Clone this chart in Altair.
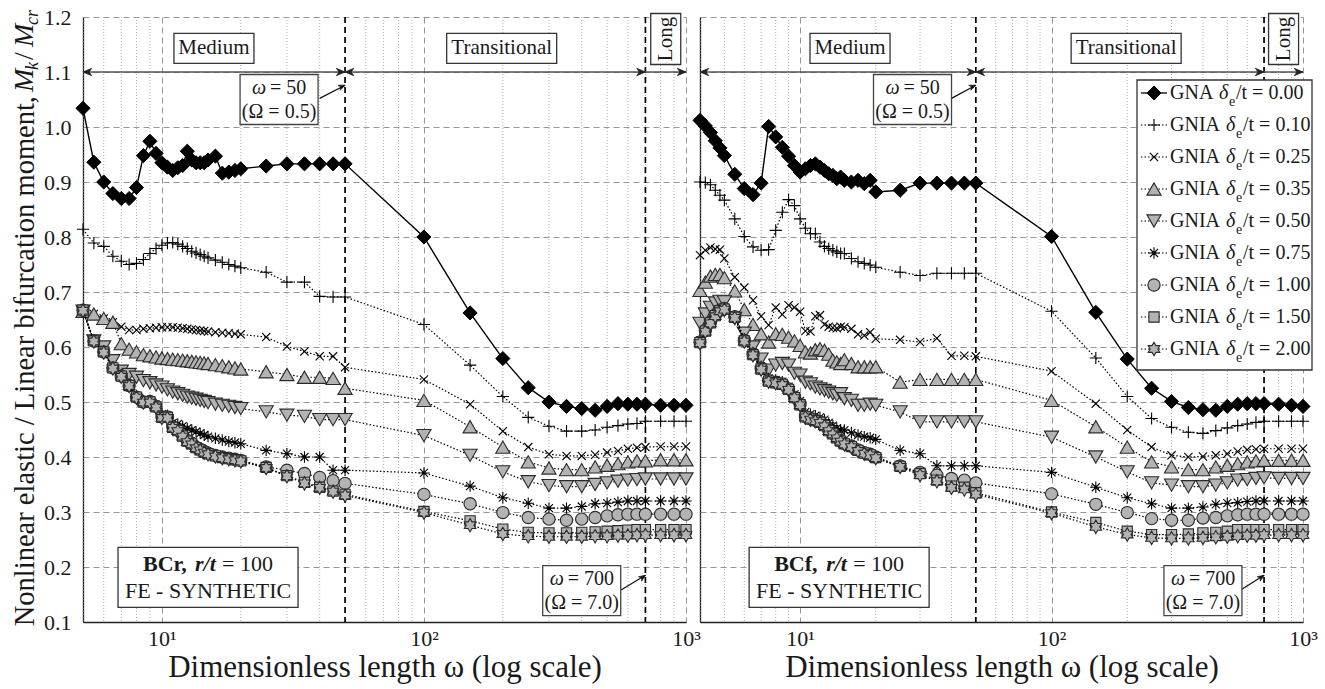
import altair as alt
import pandas as pd

FONT = "Liberation Serif"
INK = "#1a1a1a"
GRAY = "#b3b3b3"
EDGE = "#2a2a2a"

# ---------------- data ----------------
OMEGA_BCR = [5, 5.5, 6, 6.5, 7, 7.5, 8, 8.5, 9, 9.5,
             10, 10.5, 11, 11.5, 12, 12.5, 13, 13.5, 14, 14.5,
             15, 16, 17, 18, 19, 20, 25, 30, 35, 40, 45, 50, 100,
             150, 200, 250, 300, 350, 400, 450, 500, 550, 600, 650, 700,
             800, 900, 1000]
OMEGA_BCF = [4, 4.2, 4.4, 4.6, 4.8,
             5, 5.5, 6, 6.5, 7, 7.5, 8, 8.5, 9, 9.5,
             10, 10.5, 11, 11.5, 12, 12.5, 13, 13.5, 14, 14.5,
             15, 16, 17, 18, 19, 20, 25, 30, 35, 40, 45, 50, 100,
             150, 200, 250, 300, 350, 400, 450, 500, 550, 600, 650, 700,
             800, 900, 1000]

SERIES = ["0.00", "0.10", "0.25", "0.35", "0.50", "0.75", "1.00", "1.50", "2.00"]

BCR_000 = [1.034, 0.936, 0.900, 0.879, 0.870, 0.870, 0.890, 0.948, 0.974, 0.952,
           0.935, 0.927, 0.921, 0.926, 0.930, 0.956, 0.940, 0.935, 0.935, 0.935,
           0.940, 0.947, 0.916, 0.918, 0.921, 0.924, 0.929, 0.933, 0.933, 0.933,
           0.933, 0.933, 0.800, 0.662, 0.579, 0.526, 0.500, 0.492, 0.488, 0.485,
           0.492, 0.497, 0.496, 0.496, 0.496, 0.494, 0.494, 0.494]
BCR_010 = [0.814, 0.789, 0.783, 0.765, 0.756, 0.750, 0.752, 0.759, 0.770, 0.779,
           0.785, 0.789, 0.790, 0.787, 0.783, 0.779, 0.774, 0.771, 0.768, 0.765,
           0.762, 0.758, 0.754, 0.750, 0.747, 0.744, 0.736, 0.718, 0.718, 0.692,
           0.691, 0.691, 0.641, 0.567, 0.510, 0.472, 0.456, 0.447, 0.447, 0.449,
           0.454, 0.457, 0.460, 0.461, 0.465, 0.465, 0.465, 0.465]
BCR_025 = [0.665, 0.660, 0.652, 0.645, 0.637, 0.631, 0.631, 0.633, 0.634, 0.635,
           0.636, 0.636, 0.636, 0.635, 0.634, 0.633, 0.632, 0.631, 0.630, 0.629,
           0.628, 0.627, 0.626, 0.625, 0.624, 0.623, 0.618, 0.601, 0.592, 0.583,
           0.583, 0.563, 0.541, 0.496, 0.447, 0.418, 0.405, 0.402, 0.402, 0.404,
           0.408, 0.411, 0.415, 0.417, 0.418, 0.419, 0.419, 0.419]
BCR_035 = [0.665, 0.660, 0.652, 0.645, 0.606, 0.596, 0.591, 0.586, 0.584, 0.582,
           0.580, 0.579, 0.578, 0.577, 0.576, 0.575, 0.574, 0.573, 0.572, 0.571,
           0.570, 0.568, 0.566, 0.564, 0.562, 0.560, 0.555, 0.550, 0.545, 0.545,
           0.543, 0.525, 0.503, 0.455, 0.418, 0.391, 0.380, 0.377, 0.377, 0.382,
           0.385, 0.388, 0.391, 0.393, 0.393, 0.395, 0.395, 0.395]
BCR_050 = [0.665, 0.611, 0.600, 0.575, 0.556, 0.550, 0.545, 0.539, 0.535, 0.531,
           0.527, 0.522, 0.518, 0.515, 0.512, 0.509, 0.507, 0.505, 0.503, 0.501,
           0.499, 0.496, 0.494, 0.492, 0.490, 0.488, 0.482, 0.476, 0.474, 0.468,
           0.468, 0.468, 0.439, 0.403, 0.373, 0.355, 0.348, 0.346, 0.346, 0.350,
           0.353, 0.356, 0.358, 0.359, 0.360, 0.360, 0.360, 0.360]
BCR_075 = [0.665, 0.611, 0.591, 0.562, 0.549, 0.532, 0.511, 0.503, 0.503, 0.495,
           0.478, 0.476, 0.462, 0.460, 0.456, 0.452, 0.449, 0.446, 0.443, 0.440,
           0.437, 0.434, 0.431, 0.428, 0.426, 0.424, 0.412, 0.406, 0.400, 0.400,
           0.376, 0.376, 0.371, 0.347, 0.326, 0.316, 0.307, 0.307, 0.310, 0.315,
           0.316, 0.318, 0.320, 0.320, 0.320, 0.320, 0.320, 0.320]
BCR_100 = [0.667, 0.611, 0.591, 0.562, 0.547, 0.530, 0.509, 0.500, 0.501, 0.492,
           0.473, 0.473, 0.455, 0.449, 0.439, 0.430, 0.425, 0.418, 0.414, 0.410,
           0.407, 0.403, 0.400, 0.398, 0.396, 0.394, 0.382, 0.376, 0.370, 0.363,
           0.357, 0.352, 0.332, 0.315, 0.299, 0.290, 0.287, 0.285, 0.287, 0.290,
           0.293, 0.295, 0.296, 0.296, 0.296, 0.296, 0.296, 0.296]
BCR_150 = [0.667, 0.611, 0.591, 0.562, 0.547, 0.530, 0.509, 0.500, 0.500, 0.491,
           0.472, 0.472, 0.454, 0.448, 0.438, 0.429, 0.424, 0.417, 0.413, 0.409,
           0.406, 0.402, 0.399, 0.397, 0.395, 0.393, 0.381, 0.366, 0.354, 0.345,
           0.338, 0.332, 0.301, 0.284, 0.269, 0.263, 0.262, 0.262, 0.263, 0.264,
           0.265, 0.266, 0.267, 0.268, 0.268, 0.268, 0.268, 0.268]
BCR_200 = [0.666, 0.610, 0.590, 0.561, 0.546, 0.529, 0.508, 0.499, 0.499, 0.490,
           0.471, 0.471, 0.453, 0.447, 0.437, 0.427, 0.423, 0.416, 0.412, 0.408,
           0.405, 0.401, 0.398, 0.396, 0.394, 0.392, 0.380, 0.365, 0.352, 0.344,
           0.337, 0.330, 0.299, 0.276, 0.260, 0.256, 0.255, 0.255, 0.255, 0.256,
           0.256, 0.257, 0.257, 0.258, 0.258, 0.258, 0.258, 0.258]

BCF_000 = [1.012, 1.002, 0.990, 0.975, 0.962,
           0.948, 0.914, 0.888, 0.877, 0.898, 1.001, 0.982, 0.963, 0.947, 0.930,
           0.918, 0.924, 0.930, 0.933, 0.927, 0.921, 0.915, 0.912, 0.906, 0.909,
           0.903, 0.900, 0.903, 0.897, 0.903, 0.882,
           0.885, 0.898, 0.898, 0.898, 0.898, 0.898, 0.801,
           0.663, 0.578, 0.525, 0.501, 0.490, 0.486, 0.485, 0.492, 0.496, 0.497, 0.497, 0.497,
           0.496, 0.494, 0.492]
BCF_010 = [0.900, 0.899, 0.895, 0.885, 0.876,
           0.867, 0.833, 0.801, 0.782, 0.776, 0.777, 0.812, 0.845, 0.868, 0.857,
           0.833, 0.816, 0.806, 0.806, 0.791, 0.783, 0.779, 0.776, 0.773, 0.770,
           0.770, 0.761, 0.755, 0.752, 0.749, 0.745,
           0.736, 0.730, 0.734, 0.734, 0.734, 0.734, 0.665,
           0.580, 0.510, 0.470, 0.454, 0.445, 0.443, 0.448, 0.453, 0.457, 0.460, 0.463, 0.465,
           0.465, 0.465, 0.465]
BCF_025 = [0.767, 0.776, 0.781, 0.778, 0.777,
           0.761, 0.727, 0.708, 0.685, 0.656, 0.640, 0.672, 0.659, 0.676, 0.672,
           0.664, 0.629, 0.628, 0.656, 0.658, 0.641, 0.637, 0.635, 0.634, 0.637,
           0.636, 0.633, 0.623, 0.621, 0.627, 0.615,
           0.613, 0.609, 0.616, 0.584, 0.584, 0.583, 0.556,
           0.497, 0.449, 0.418, 0.403, 0.400, 0.401, 0.403, 0.406, 0.410, 0.413, 0.414, 0.415,
           0.415, 0.415, 0.415]
BCF_035 = [0.703, 0.718, 0.729, 0.732, 0.732,
           0.726, 0.702, 0.668, 0.641, 0.624, 0.609, 0.624, 0.623, 0.618, 0.611,
           0.603, 0.591, 0.589, 0.595, 0.597, 0.594, 0.587, 0.576, 0.573, 0.570,
           0.577, 0.570, 0.564, 0.564, 0.564, 0.564,
           0.536, 0.541, 0.541, 0.541, 0.541, 0.541, 0.503,
           0.455, 0.418, 0.391, 0.382, 0.377, 0.377, 0.382, 0.385, 0.388, 0.391, 0.393, 0.394,
           0.394, 0.394, 0.394]
BCF_050 = [0.643, 0.660, 0.672, 0.680, 0.683,
           0.682, 0.652, 0.625, 0.600, 0.578, 0.558, 0.567, 0.570, 0.567, 0.552,
           0.549, 0.536, 0.533, 0.527, 0.524, 0.521, 0.518, 0.515, 0.512, 0.515,
           0.506, 0.503, 0.494, 0.494, 0.496, 0.494,
           0.482, 0.464, 0.464, 0.464, 0.464, 0.464, 0.436,
           0.400, 0.373, 0.353, 0.349, 0.346, 0.346, 0.349, 0.353, 0.358, 0.359, 0.361, 0.362,
           0.361, 0.361, 0.361]
BCF_075 = [0.612, 0.632, 0.647, 0.660, 0.668,
           0.671, 0.657, 0.615, 0.590, 0.565, 0.543, 0.540, 0.537, 0.528, 0.514,
           0.502, 0.482, 0.478, 0.475, 0.472, 0.468, 0.462, 0.457, 0.452, 0.449,
           0.449, 0.444, 0.440, 0.437, 0.435, 0.432,
           0.412, 0.406, 0.384, 0.384, 0.384, 0.384, 0.372,
           0.345, 0.326, 0.315, 0.307, 0.307, 0.309, 0.314, 0.316, 0.317, 0.319, 0.320, 0.320,
           0.320, 0.320, 0.320]
BCF_100 = [0.609, 0.630, 0.645, 0.658, 0.667,
           0.670, 0.655, 0.612, 0.587, 0.561, 0.539, 0.536, 0.533, 0.524, 0.509,
           0.496, 0.474, 0.470, 0.467, 0.464, 0.458, 0.449, 0.443, 0.436, 0.430,
           0.425, 0.420, 0.413, 0.408, 0.405, 0.400,
           0.384, 0.372, 0.367, 0.361, 0.358, 0.353, 0.333,
           0.314, 0.299, 0.288, 0.285, 0.285, 0.289, 0.290, 0.293, 0.295, 0.296, 0.296, 0.296,
           0.296, 0.296, 0.296]
BCF_150 = [0.608, 0.629, 0.644, 0.657, 0.666,
           0.669, 0.654, 0.611, 0.586, 0.560, 0.538, 0.535, 0.532, 0.523, 0.508,
           0.495, 0.473, 0.469, 0.466, 0.463, 0.457, 0.448, 0.442, 0.435, 0.429,
           0.424, 0.419, 0.412, 0.407, 0.404, 0.399,
           0.383, 0.370, 0.358, 0.347, 0.345, 0.335, 0.300,
           0.281, 0.265, 0.259, 0.259, 0.260, 0.262, 0.263, 0.265, 0.268, 0.268, 0.268, 0.268,
           0.268, 0.268, 0.268]
BCF_200 = [0.607, 0.628, 0.643, 0.656, 0.665,
           0.668, 0.653, 0.610, 0.585, 0.559, 0.537, 0.534, 0.531, 0.522, 0.507,
           0.494, 0.472, 0.468, 0.465, 0.462, 0.456, 0.447, 0.441, 0.434, 0.428,
           0.423, 0.418, 0.411, 0.406, 0.403, 0.398,
           0.382, 0.367, 0.356, 0.344, 0.341, 0.332, 0.298,
           0.273, 0.259, 0.253, 0.252, 0.252, 0.253, 0.254, 0.255, 0.256, 0.257, 0.257, 0.258,
           0.258, 0.258, 0.258]

BCR_VALUES = [BCR_000, BCR_010, BCR_025, BCR_035, BCR_050, BCR_075, BCR_100, BCR_150, BCR_200]
BCF_VALUES = [BCF_000, BCF_010, BCF_025, BCF_035, BCF_050, BCF_075, BCF_100, BCF_150, BCF_200]

X_MAJOR = [10, 100, 1000]
X_MINOR = [4, 5, 6, 7, 8, 9, 20, 30, 40, 60, 70, 80, 90,
           200, 300, 400, 500, 600, 700, 800, 900]
Y_TICKS = [0.1, 0.2, 0.3, 0.4, 0.5, 0.6, 0.7, 0.8, 0.9, 1.0, 1.1, 1.2]
REGION_BOUNDS = [50, 700]

# ---------------- styles ----------------
PLUS = "M-1,0L1,0M0,-1L0,1"
XMARK = "M-0.75,-0.75L0.75,0.75M-0.75,0.75L0.75,-0.75"
STAR = "M-1,0L1,0M0,-1L0,1M-0.7,-0.7L0.7,0.7M-0.7,0.7L0.7,-0.7"
HEXA = ("M0,-1L0.289,-0.5L0.866,-0.5L0.577,0L0.866,0.5L0.289,0.5L0,1"
        "L-0.289,0.5L-0.866,0.5L-0.577,0L-0.866,-0.5L-0.289,-0.5Z")
STYLES = [
    dict(shape="diamond", size=200, kind="black"),
    dict(shape=PLUS, size=150, kind="open"),
    dict(shape=XMARK, size=120, kind="open"),
    dict(shape="triangle-up", size=200, kind="gray"),
    dict(shape="triangle-down", size=200, kind="gray"),
    dict(shape=STAR, size=130, kind="open"),
    dict(shape="circle", size=150, kind="gray"),
    dict(shape="square", size=105, kind="gray"),
    dict(shape=HEXA, size=180, kind="gray"),
]
ARROW_R = "M0,0L-1,-0.42L-0.7,0L-1,0.42Z"
ARROW_L = "M0,0L1,-0.42L0.7,0L1,0.42Z"

ONE = pd.DataFrame({"k": [0]})


def point_kw(st):
    if st["kind"] == "black":
        return dict(shape=st["shape"], size=st["size"], filled=True,
                    fill="#000", stroke="#000", strokeWidth=1, opacity=1)
    if st["kind"] == "gray":
        return dict(shape=st["shape"], size=st["size"], filled=True,
                    fill=GRAY, stroke=EDGE, strokeWidth=1.1, opacity=1)
    return dict(shape=st["shape"], size=st["size"], filled=False,
                stroke="#000", strokeWidth=1.1, opacity=1)


def box_shape(w, h):
    m = max(w, h)
    a, b = w / m, h / m
    return f"M{-a:.4f},{-b:.4f}L{a:.4f},{-b:.4f}L{a:.4f},{b:.4f}L{-a:.4f},{b:.4f}Z", m * m


def pix_text(x, y, text, **kw):
    base = dict(font=FONT, color=INK, fontSize=20, baseline="middle")
    base.update(kw)
    return alt.Chart(ONE).mark_text(text=text, **base).encode(x=alt.value(x), y=alt.value(y))


def panel(omega, values, xmin, bc_name, bc_x, left):
    xsc = alt.Scale(type="log", domain=[xmin, 1000], nice=False)
    ysc = alt.Scale(domain=[0.1, 1.2], nice=False, zero=False)
    xax = alt.Axis(values=X_MAJOR,
                   labelExpr="datum.value == 10 ? '10¹' : datum.value == 100 ? '10²' : '10³'",
                   grid=True, gridDash=[6, 4], gridColor="#8a8a8a", gridWidth=0.9,
                   ticks=False, domainColor="#222", domainWidth=1.3, labelFlush=False,
                   labelFont=FONT, labelFontSize=22, labelColor=INK, labelPadding=6,
                   title="Dimensionless length ω (log scale)", titleFont=FONT,
                   titleFontSize=31, titleFontWeight="normal", titleColor=INK, titlePadding=3)
    if left:
        yax = alt.Axis(values=Y_TICKS, format=".1f", grid=True, gridDash=[6, 4],
                       gridColor="#8a8a8a", gridWidth=0.9, ticks=False, domainColor="#222",
                       domainWidth=1.3, labelFont=FONT, labelFontSize=22, labelColor=INK,
                       labelPadding=12, title="")
    else:
        yax = alt.Axis(values=Y_TICKS, labels=False, grid=True, gridDash=[6, 4],
                       gridColor="#8a8a8a", gridWidth=0.9, ticks=False, domainColor="#222",
                       domainWidth=1.3, title="")
    X = alt.X("omega:Q", scale=xsc, axis=xax)
    Y = alt.Y("value:Q", scale=ysc, axis=yax)

    def at(w, v):
        return alt.Chart(pd.DataFrame({"omega": [w], "value": [v]}))

    layers = []
    minor = [m for m in X_MINOR if m >= xmin]
    layers.append(alt.Chart(pd.DataFrame({"omega": minor})).mark_rule(
        color="#a8a8a8", strokeDash=[1, 2], strokeWidth=0.9).encode(x=X))
    layers.append(alt.Chart(pd.DataFrame({"omega": REGION_BOUNDS})).mark_rule(
        color="#000", strokeDash=[6, 4], strokeWidth=1.7).encode(x=X))
    # region arrow line at 1.1
    layers.append(alt.Chart(pd.DataFrame({"omega": [xmin], "omega2": [1000], "value": [1.1]}))
                  .mark_rule(color="#555", strokeWidth=1.6).encode(x=X, x2="omega2:Q", y=Y))
    layers.append(alt.Chart(pd.DataFrame({"omega": [xmin, 50], "value": [1.1, 1.1]}))
                  .mark_point(shape=ARROW_L, size=300, filled=True, fill="#222", stroke="#222",
                              strokeWidth=0.8, opacity=1).encode(x=X, y=Y))
    layers.append(alt.Chart(pd.DataFrame({"omega": [50, 700, 1000], "value": [1.1, 1.1, 1.1]}))
                  .mark_point(shape=ARROW_R, size=300, filled=True, fill="#222", stroke="#222",
                              strokeWidth=0.8, opacity=1).encode(x=X, y=Y))

    # data series
    for vals, st in zip(values, STYLES):
        df = pd.DataFrame({"omega": omega, "value": vals})
        if st["kind"] == "black":
            line = alt.Chart(df).mark_line(color="#000", strokeWidth=1.4)
        else:
            line = alt.Chart(df).mark_line(color="#000", strokeWidth=1.2, strokeDash=[1.5, 2])
        layers.append(line.encode(x=X, y=Y))
        layers.append(alt.Chart(df).mark_point(**point_kw(st)).encode(x=X, y=Y))

    # region labels
    p, s = box_shape(80, 30)
    layers.append(at(15.8, 1.143).mark_point(shape=p, size=s, filled=True, fill="white",
                                             stroke="#333", strokeWidth=1.3, opacity=1).encode(x=X, y=Y))
    layers.append(at(15.8, 1.143).mark_text(text="Medium", font=FONT, fontSize=21, color=INK,
                                            baseline="middle").encode(x=X, y=Y))
    p, s = box_shape(110, 30)
    layers.append(at(198, 1.143).mark_point(shape=p, size=s, filled=True, fill="white",
                                            stroke="#333", strokeWidth=1.3, opacity=1).encode(x=X, y=Y))
    layers.append(at(198, 1.143).mark_text(text="Transitional", font=FONT, fontSize=21, color=INK,
                                           baseline="middle").encode(x=X, y=Y))
    p, s = box_shape(30, 51)
    layers.append(at(837, 1.160).mark_point(shape=p, size=s, filled=True, fill="white",
                                            stroke="#333", strokeWidth=1.3, opacity=1).encode(x=X, y=Y))
    layers.append(at(837, 1.160).mark_text(text="Long", font=FONT, fontSize=21, color=INK,
                                           angle=270, baseline="middle").encode(x=X, y=Y))

    # omega annotations
    for (cx, cy, x0, y0, x1, y1, ang, l1, l2, w1) in [
        (28, 1.050, 40, 1.052, 50, 1.076, 337, "= 50", "(Ω = 0.5)", 54),
        (400, 0.157, 565, 0.158, 700, 0.185, 325, "= 700", "(Ω = 7.0)", 64),
    ]:
        layers.append(alt.Chart(pd.DataFrame({"omega": [x0], "value": [y0], "o2": [x1], "v2": [y1]}))
                      .mark_rule(color="#111", strokeWidth=1.2)
                      .encode(x=X, y=Y, x2="o2:Q", y2="v2:Q"))
        layers.append(at(x1, y1).mark_point(shape=ARROW_R, size=170, filled=True, fill="#111",
                                            stroke="#111", strokeWidth=0.6, angle=ang,
                                            opacity=1).encode(x=X, y=Y))
        p, s = box_shape(78, 50)
        layers.append(at(cx, cy).mark_point(shape=p, size=s, filled=True, fill="white",
                                            stroke="#444", strokeWidth=1.3, opacity=1).encode(x=X, y=Y))
        half = w1 / 2
        layers.append(at(cx, cy).mark_text(text="ω", font=FONT, fontSize=20, fontStyle="italic",
                                           color=INK, align="left", baseline="middle",
                                           dx=-half, dy=-12).encode(x=X, y=Y))
        layers.append(at(cx, cy).mark_text(text=l1, font=FONT, fontSize=20, color=INK,
                                           align="left", baseline="middle",
                                           dx=-half + 18, dy=-12).encode(x=X, y=Y))
        layers.append(at(cx, cy).mark_text(text=l2, font=FONT, fontSize=20, color=INK,
                                           baseline="middle", dy=12).encode(x=X, y=Y))

    # BC box
    p, s = box_shape(180, 60)
    layers.append(at(bc_x, 0.181).mark_point(shape=p, size=s, filled=True, fill="white",
                                             stroke="#333", strokeWidth=1.3, opacity=1).encode(x=X, y=Y))
    layers.append(at(bc_x, 0.181).mark_text(text=bc_name, font=FONT, fontSize=22, fontWeight="bold",
                                            color=INK, align="left", baseline="middle",
                                            dx=-65, dy=-13).encode(x=X, y=Y))
    layers.append(at(bc_x, 0.181).mark_text(text="r/t", font=FONT, fontSize=22, fontWeight="bold",
                                            fontStyle="italic", color=INK, align="left",
                                            baseline="middle", dx=-13, dy=-13).encode(x=X, y=Y))
    layers.append(at(bc_x, 0.181).mark_text(text="= 100", font=FONT, fontSize=22, color=INK,
                                            align="left", baseline="middle",
                                            dx=14, dy=-13).encode(x=X, y=Y))
    layers.append(at(bc_x, 0.181).mark_text(text="FE - SYNTHETIC", font=FONT, fontSize=22,
                                            color=INK, baseline="middle", dy=14).encode(x=X, y=Y))

    if left:
        # layout anchor (top-left corner of the page)
        layers.append(alt.Chart(ONE).mark_rect(opacity=0).encode(
            x=alt.value(-83), x2=alt.value(-82), y=alt.value(-17), y2=alt.value(-16)))
        tx = -58
        layers.append(pix_text(tx, 79, "Nonlinear elastic / Linear bifurcation moment,",
                               fontSize=28.5, angle=270, align="right"))
        layers.append(pix_text(tx, 75, "M", fontSize=28, fontStyle="italic", angle=270, align="left"))
        layers.append(pix_text(tx + 8, 53, "k", fontSize=18, fontStyle="italic", angle=270, align="left"))
        layers.append(pix_text(tx, 43, "/", fontSize=28, angle=270, align="left"))
        layers.append(pix_text(tx, 30, "M", fontSize=28, fontStyle="italic", angle=270, align="left"))
        layers.append(pix_text(tx + 8, 8, "cr", fontSize=18, fontStyle="italic", angle=270, align="left"))
    else:
        # legend
        layers.append(alt.Chart(ONE).mark_rect(fill="white", stroke="#333", strokeWidth=1.3).encode(
            x=alt.value(437), x2=alt.value(612), y=alt.value(63), y2=alt.value(353)))
        for i, (lab, st) in enumerate(zip(SERIES, STYLES)):
            yy = 76 + 32 * i
            if i == 0:
                rule = alt.Chart(ONE).mark_rule(color="#000", strokeWidth=1.3)
            else:
                rule = alt.Chart(ONE).mark_rule(color="#000", strokeWidth=1.2, strokeDash=[1.5, 2])
            layers.append(rule.encode(x=alt.value(441), x2=alt.value(467), y=alt.value(yy)))
            layers.append(alt.Chart(ONE).mark_point(**point_kw(st)).encode(
                x=alt.value(454), y=alt.value(yy)))
            name = "GNA" if i == 0 else "GNIA"
            off = 44 if i == 0 else 51
            layers.append(pix_text(470, yy, name, align="left"))
            layers.append(pix_text(470 + off + 5, yy, "δ", fontStyle="italic", align="left"))
            layers.append(pix_text(470 + off + 15, yy + 9, "e", fontSize=14, align="left"))
            layers.append(pix_text(470 + off + 22, yy, "/t = " + lab, align="left"))
        # layout anchor (bottom-right corner of the page)
        layers.append(alt.Chart(ONE).mark_rect(opacity=0).encode(
            x=alt.value(624), x2=alt.value(625), y=alt.value(671), y2=alt.value(672)))

    return alt.layer(*layers).properties(width=603, height=605)


left_panel = panel(OMEGA_BCR, BCR_VALUES, 5, "BCr,", 15.0, True)
right_panel = panel(OMEGA_BCF, BCF_VALUES, 4, "BCf,", 14.3, False)

chart = alt.HConcatChart(hconcat=[left_panel, right_panel], spacing=14, bounds="flush") \
    .resolve_scale(x="independent", y="independent") \
    .properties(padding=0, background="white") \
    .configure_view(strokeWidth=0)

chart.save("out.html", embed_options={"renderer": "svg", "actions": False})
